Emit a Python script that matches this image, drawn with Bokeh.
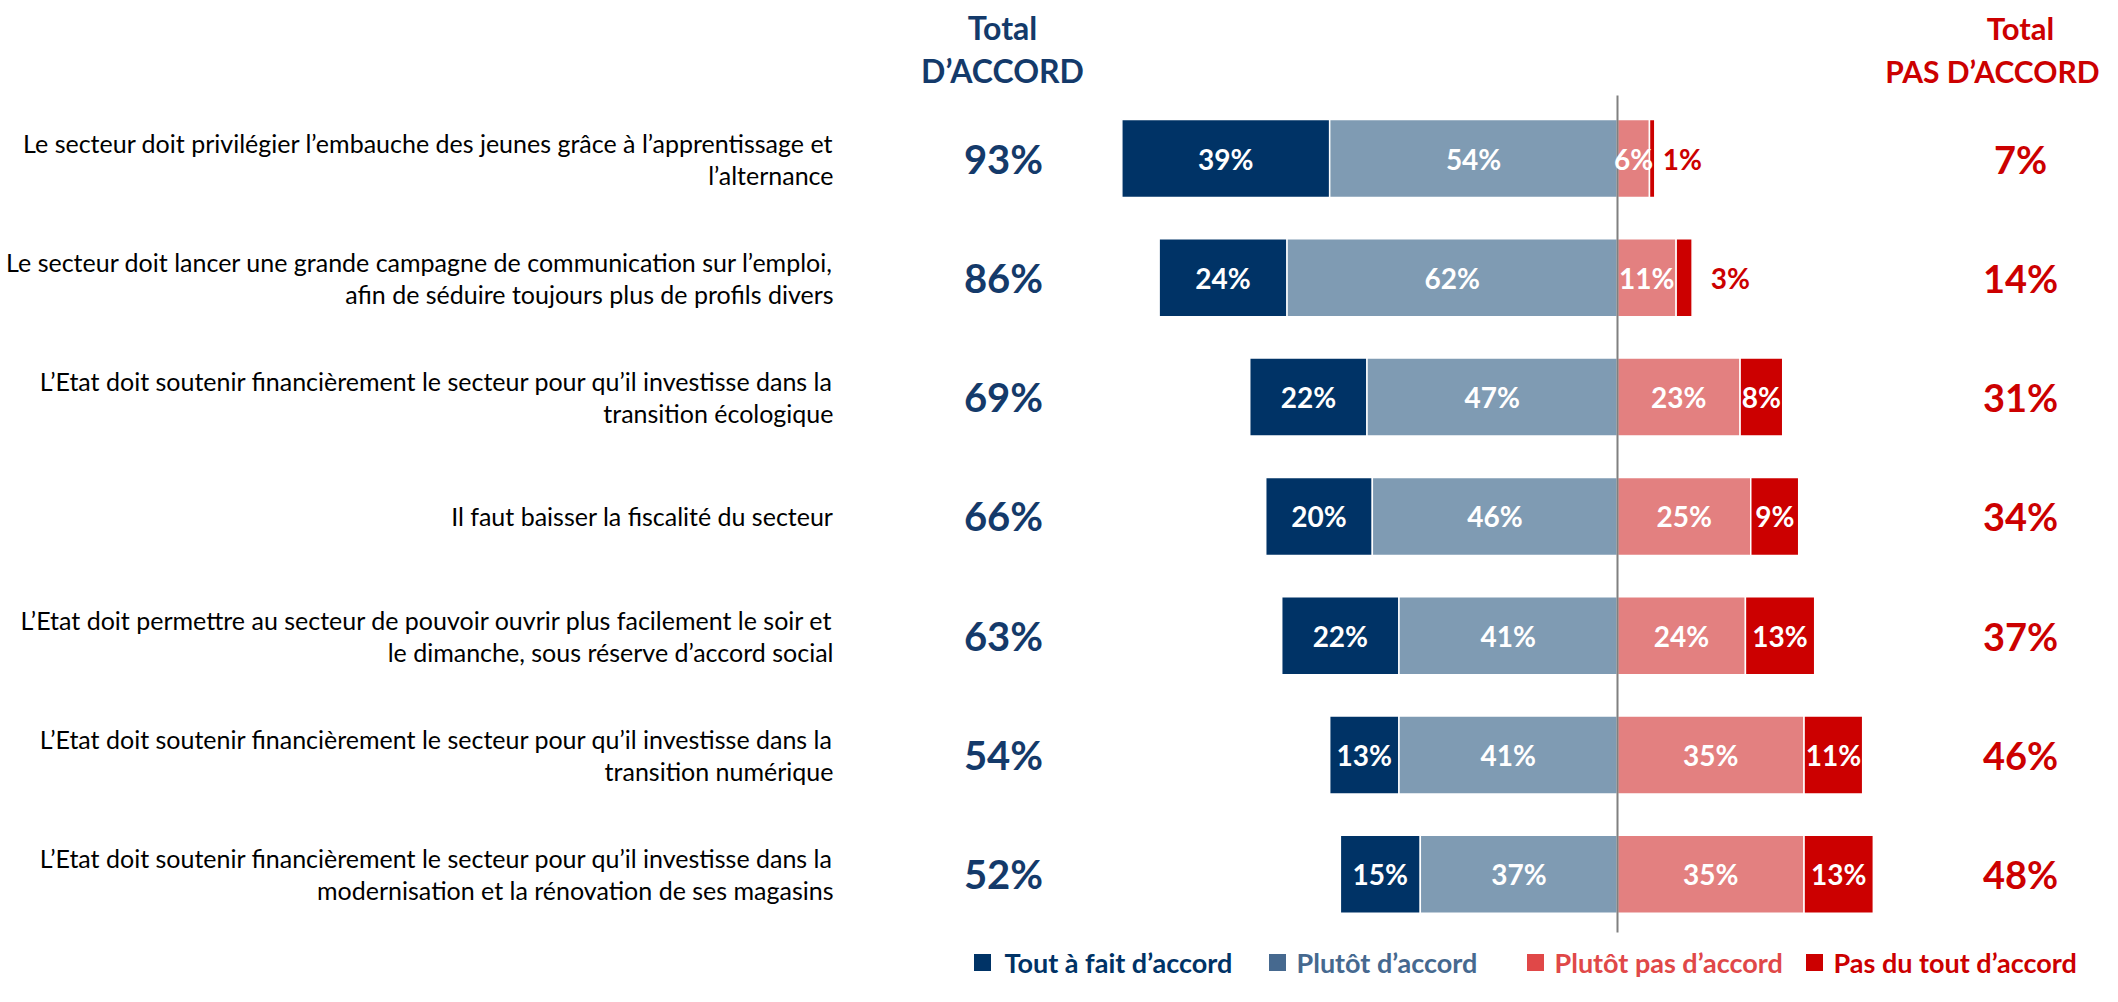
from bokeh.plotting import figure
from bokeh.models import Range1d
from bokeh.core.properties import value
from bokeh.embed import file_html
from bokeh.resources import INLINE

# ---------------- data ----------------
labels = [
    ["Le secteur doit privilégier l’embauche des jeunes grâce à l’apprentissage et", "l’alternance"],
    ["Le secteur doit lancer une grande campagne de communication sur l’emploi,", "afin de séduire toujours plus de profils divers"],
    ["L’Etat doit soutenir financièrement le secteur pour qu’il investisse dans la", "transition écologique"],
    ["Il faut baisser la fiscalité du secteur"],
    ["L’Etat doit permettre au secteur de pouvoir ouvrir plus facilement le soir et", "le dimanche, sous réserve d’accord social"],
    ["L’Etat doit soutenir financièrement le secteur pour qu’il investisse dans la", "transition numérique"],
    ["L’Etat doit soutenir financièrement le secteur pour qu’il investisse dans la", "modernisation et la rénovation de ses magasins"],
]
tout_accord = [39, 24, 22, 20, 22, 13, 15]
plutot_accord = [54, 62, 47, 46, 41, 41, 37]
plutot_pas = [6, 11, 23, 25, 24, 35, 35]
pas_du_tout = [1, 3, 8, 9, 13, 11, 13]
total_accord = [93, 86, 69, 66, 63, 54, 52]
total_pas = [7, 14, 31, 34, 37, 46, 48]
series_names = ["Tout à fait d’accord", "Plutôt d’accord", "Plutôt pas d’accord", "Pas du tout d’accord"]
header_left = ["Total", "D’ACCORD"]
header_right = ["Total", "PAS D’ACCORD"]

# ---------------- style ----------------
DARK = "#003366"
LIGHT = "#7F9BB3"
PINK = "#E38080"
RED = "#CC0000"
NAVY_TXT = "#143A6A"
LEG_COLORS = [DARK, "#46698F", "#E04848", RED]
FONT = "Lato"

W, H = 2102, 986
PX = 5.33          # pixels per percentage point
X0 = 1617          # canvas x of the zero line
Y0 = 158           # canvas y of first row
DY = 119.3         # row spacing in px


def fx(px):
    return (px - X0) / PX


def fy(py):
    return (Y0 - py) / DY


p = figure(width=W, height=H, output_backend="svg", toolbar_location=None,
           x_range=Range1d(fx(0), fx(W)), y_range=Range1d(fy(H), fy(0)),
           min_border=0)
p.axis.visible = False
p.grid.visible = False
p.outline_line_color = None
p.background_fill_color = "white"
p.border_fill_color = "white"

n = len(tout_accord)
ys = [-i for i in range(n)]
BH = 78 / DY

# bars
left1 = [-(a + b) for a, b in zip(tout_accord, plutot_accord)]
right1 = [-b for b in plutot_accord]
p.hbar(y=ys, left=left1, right=right1, height=BH, fill_color=DARK, line_color="white", line_width=1.5)
p.hbar(y=ys, left=right1, right=[0] * n, height=BH, fill_color=LIGHT, line_color="white", line_width=1.5)
p.hbar(y=ys, left=[0] * n, right=plutot_pas, height=BH, fill_color=PINK, line_color="white", line_width=1.5)
ends = [a + b for a, b in zip(plutot_pas, pas_du_tout)]
p.hbar(y=ys, left=plutot_pas, right=ends, height=BH, fill_color=RED, line_color="white", line_width=1.5)

# zero line
p.segment(x0=[0], y0=[fy(95)], x1=[0], y1=[fy(932)], line_color="#808080", line_width=2)

# segment labels
seg_x, seg_y, seg_t = [], [], []
out_x, out_y, out_t = [], [], []
for i in range(n):
    segs = [
        (left1[i], right1[i], tout_accord[i]),
        (right1[i], 0, plutot_accord[i]),
        (0, plutot_pas[i], plutot_pas[i]),
        (plutot_pas[i], ends[i], pas_du_tout[i]),
    ]
    for l, r, v in segs:
        if v <= 3:
            out_x.append(r + 1.5 + (v - 1) * 1.0)
            out_y.append(ys[i])
            out_t.append(f"{v}%")
        else:
            seg_x.append((l + r) / 2)
            seg_y.append(ys[i])
            seg_t.append(f"{v}%")
p.text(x=seg_x, y=seg_y, text=seg_t, text_align="center", text_baseline="middle",
       text_color="white", text_font=value(FONT), text_font_style="bold",
       text_font_size=value("28px"))
p.text(x=out_x, y=out_y, text=out_t, text_align="left", text_baseline="middle",
       text_color=RED, text_font=value(FONT), text_font_style="bold",
       text_font_size=value("28px"))

# totals
p.text(x=[fx(1003)] * n, y=ys, text=[f"{v}%" for v in total_accord], text_align="center",
       text_baseline="middle", text_color=NAVY_TXT, text_font=value(FONT), text_font_style="bold",
       text_font_size=value("40px"))
p.text(x=[fx(2020)] * n, y=ys, text=[f"{v}%" for v in total_pas], text_align="center",
       text_baseline="middle", text_color=RED, text_font=value(FONT), text_font_style="bold",
       text_font_size=value("38px"))

# headers
p.text(x=[fx(1002)] * 2, y=[fy(27), fy(70)], text=header_left, text_align="center",
       text_baseline="middle", text_color=NAVY_TXT, text_font=value(FONT), text_font_style="bold",
       text_font_size=value("32px"))
p.text(x=[fx(2020)], y=[fy(27)], text=[header_right[0]], text_align="center",
       text_baseline="middle", text_color=RED, text_font=value(FONT), text_font_style="bold",
       text_font_size=value("31px"))
p.text(x=[fx(2099)], y=[fy(70)], text=[header_right[1]], text_align="right",
       text_baseline="middle", text_color=RED, text_font=value(FONT), text_font_style="bold",
       text_font_size=value("30px"))

# category labels
lx, ly, lt = [], [], []
for i, lines in enumerate(labels):
    offs = [0] if len(lines) == 1 else [-16, 16]
    for o, t in zip(offs, lines):
        lx.append(fx(833))
        ly.append(fy(Y0 + i * DY + o))
        lt.append(t)
p.text(x=lx, y=ly, text=lt, text_align="right", text_baseline="middle", text_color="black",
       text_font=value(FONT), text_font_size=value("25px"))

# legend
sq_px = [982, 1277, 1535, 1814]
tx_px = [1004, 1296, 1554, 1833]
ly_leg = fy(962)
p.rect(x=[fx(v) for v in sq_px], y=[ly_leg] * 4, width=17, height=17, width_units="screen",
       height_units="screen", fill_color=LEG_COLORS, line_color=None)
p.text(x=[fx(v) for v in tx_px], y=[ly_leg] * 4, text=series_names, text_align="left",
       text_baseline="middle", text_color=LEG_COLORS, text_font=value(FONT), text_font_style="bold",
       text_font_size=value("27px"))

open("out.html", "w").write(file_html(p, INLINE))
